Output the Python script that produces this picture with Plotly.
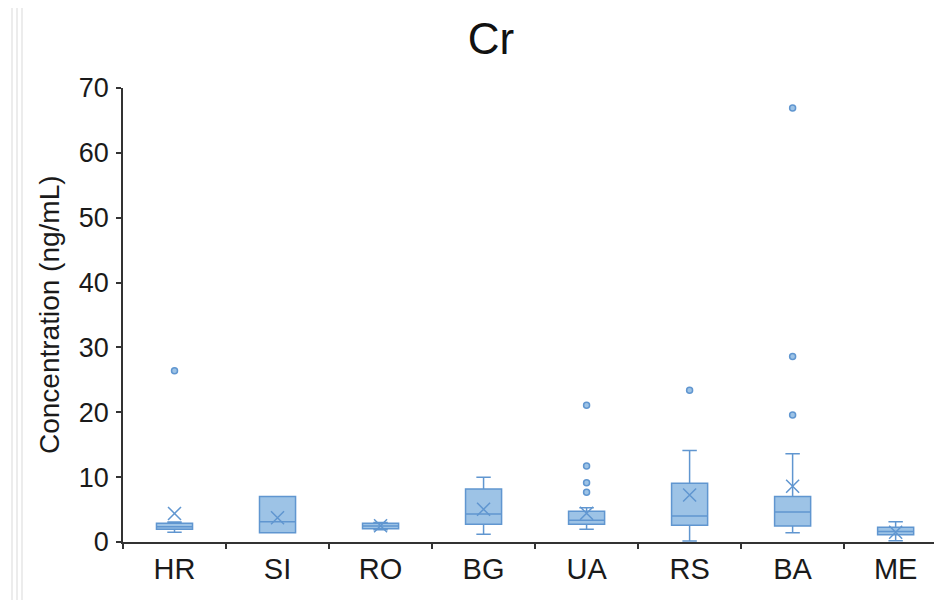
import plotly.graph_objects as go

categories = ["HR", "SI", "RO", "BG", "UA", "RS", "BA", "ME"]
q1 = [1.96, 1.43, 2.05, 2.72, 2.72, 2.57, 2.47, 1.13]
median = [2.36, 3.13, 2.45, 4.32, 3.34, 4.0, 4.63, 1.6]
q3 = [2.88, 7.0, 2.88, 8.17, 4.73, 9.05, 7.0, 2.26]
lower_whisker = [1.5, 1.43, 1.9, 1.18, 1.95, 0.15, 1.43, 0.2]
upper_whisker = [3.1, 7.0, 3.0, 10.0, 5.29, 14.1, 13.6, 3.13]
means = [4.4, 3.75, 2.5, 5.04, 4.42, 7.25, 8.6, 1.5]
outlier_cats = ["HR", "UA", "UA", "UA", "UA", "RS", "BA", "BA", "BA"]
outlier_vals = [26.4, 21.1, 11.7, 9.15, 7.66, 23.4, 66.9, 28.6, 19.6]

FILL = "#9dc3e6"
LINE = "#6096d0"
FONT = "Liberation Sans, Arial, sans-serif"

OFF = 8  # page body offset
L, T, PW, PH = 123 - OFF, 88 - OFF, 819, 454
W, H = 942 - OFF, 600 - OFF

fig = go.Figure()
fig.add_trace(go.Box(
    x=categories, q1=q1, median=median, q3=q3,
    lowerfence=lower_whisker, upperfence=upper_whisker,
    boxpoints=False, width=0.35, whiskerwidth=0.4,
    fillcolor=FILL, line=dict(color=LINE, width=1.5),
    showlegend=False, hoverinfo="skip",
))
fig.add_trace(go.Scatter(
    x=categories, y=means, mode="markers",
    marker=dict(symbol="x-thin", size=13, line=dict(color=LINE, width=1.5), color=LINE),
    showlegend=False,
))
fig.add_trace(go.Scatter(
    x=outlier_cats, y=outlier_vals, mode="markers",
    marker=dict(symbol="circle", size=6, color=FILL, line=dict(color=LINE, width=1.5)),
    showlegend=False,
))

# faint vertical lines at left edge (screenshot border)
shapes = []
for px in [12, 17, 22]:
    xp = (px - 123) / PW
    shapes.append(dict(type="line", xref="paper", yref="paper", x0=xp, x1=xp,
                       y0=-0.2, y1=1.2, line=dict(color="#ececec", width=2), layer="below"))

fig.update_layout(
    width=W, height=H,
    margin=dict(l=L, r=W - L - PW, t=T, b=H - T - PH, pad=0),
    paper_bgcolor="white", plot_bgcolor="white",
    font=dict(family=FONT, color="#1a1a1a"),
    title=dict(text="Cr", x=(491 - 123) / PW, xref="paper", xanchor="center",
               y=1 - (39 - OFF) / H, yanchor="middle", font=dict(size=44, color="#111")),
    shapes=shapes,
    annotations=[dict(text="Concentration (ng/mL)", textangle=-90, xref="paper", yref="paper",
                      x=(49 - 123) / PW, y=0.5, showarrow=False,
                      xanchor="center", yanchor="middle",
                      font=dict(size=28, color="#1a1a1a", family=FONT))],
)
fig.update_yaxes(range=[0, 70], dtick=10, showgrid=False, zeroline=False,
                 showline=True, linecolor="#333", linewidth=1.5,
                 ticks="outside", ticklen=5, tickcolor="#333", tickwidth=1.5,
                 tickfont=dict(size=27, color="#1a1a1a"), ticklabelstandoff=2)
fig.update_xaxes(type="category", categoryorder="array", categoryarray=categories,
                 range=[-0.5, 7.45], showgrid=False, zeroline=False,
                 showline=True, linecolor="#333", linewidth=1.5,
                 ticks="outside", ticklen=5, tickcolor="#333", tickwidth=1.5,
                 tickson="boundaries",
                 tickfont=dict(size=29, color="#1a1a1a"))

fig.write_html("out.html")
